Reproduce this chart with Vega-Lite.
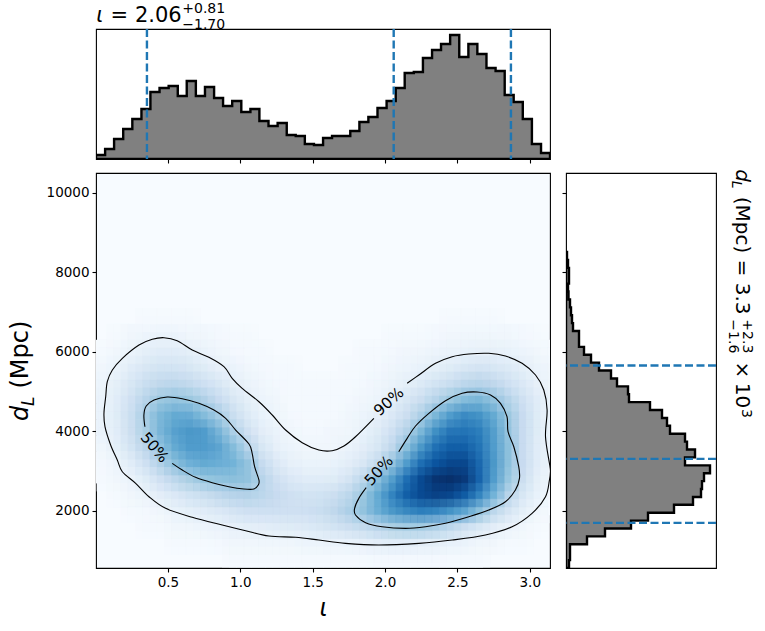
{
  "$schema": "https://vega.github.io/schema/vega-lite/v6.json",
  "background": "white",
  "padding": {"left": 8, "top": 1, "right": 5, "bottom": 5},
  "config": {
    "font": "DejaVu Sans",
    "view": {"stroke": "black", "strokeWidth": 1.1},
    "axis": {"grid": false, "domain": false, "tickColor": "black", "tickSize": 4, "tickWidth": 1.1, "labelColor": "black", "labelFontSize": 13.5, "labelPadding": 3, "titleColor": "black"},
    "text": {"color": "black", "align": "left", "baseline": "alphabetic", "font": "DejaVu Sans"}
  },
  "bounds": "flush",
  "columns": 2,
  "spacing": {"row": 14, "column": 16},
  "datasets": {
    "heat": [
      {"i":0.35,"d":6800,"v":1},{"i":0.45,"d":6800,"v":1},{"i":0.55,"d":6800,"v":1},{"i":0.65,"d":6800,"v":1},{"i":2.45,"d":6800,"v":1},{"i":2.55,"d":6800,"v":1},{"i":2.65,"d":6800,"v":1},{"i":2.75,"d":6800,"v":1},
      {"i":0.15,"d":6400,"v":1},{"i":0.25,"d":6400,"v":3},{"i":0.35,"d":6400,"v":5},{"i":0.45,"d":6400,"v":6},{"i":0.55,"d":6400,"v":6},{"i":0.65,"d":6400,"v":4},{"i":0.75,"d":6400,"v":3},{"i":0.85,"d":6400,"v":2},{"i":0.95,"d":6400,"v":1},{"i":1.05,"d":6400,"v":1},{"i":2.05,"d":6400,"v":1},{"i":2.15,"d":6400,"v":1},{"i":2.25,"d":6400,"v":1},{"i":2.35,"d":6400,"v":2},{"i":2.45,"d":6400,"v":3},{"i":2.55,"d":6400,"v":4},{"i":2.65,"d":6400,"v":4},{"i":2.75,"d":6400,"v":4},{"i":2.85,"d":6400,"v":3},{"i":2.95,"d":6400,"v":2},{"i":3.05,"d":6400,"v":1},
      {"i":0.05,"d":6000,"v":1},{"i":0.15,"d":6000,"v":3},{"i":0.25,"d":6000,"v":6},{"i":0.35,"d":6000,"v":9},{"i":0.45,"d":6000,"v":11},{"i":0.55,"d":6000,"v":11},{"i":0.65,"d":6000,"v":9},{"i":0.75,"d":6000,"v":6},{"i":0.85,"d":6000,"v":4},{"i":0.95,"d":6000,"v":2},{"i":1.05,"d":6000,"v":1},{"i":1.15,"d":6000,"v":1},{"i":1.85,"d":6000,"v":1},{"i":1.95,"d":6000,"v":1},{"i":2.05,"d":6000,"v":2},{"i":2.15,"d":6000,"v":3},{"i":2.25,"d":6000,"v":4},{"i":2.35,"d":6000,"v":5},{"i":2.45,"d":6000,"v":6},{"i":2.55,"d":6000,"v":7},{"i":2.65,"d":6000,"v":8},{"i":2.75,"d":6000,"v":8},{"i":2.85,"d":6000,"v":7},{"i":2.95,"d":6000,"v":5},{"i":3.05,"d":6000,"v":3},{"i":3.15,"d":6000,"v":1},
      {"i":0.05,"d":5600,"v":3},{"i":0.15,"d":5600,"v":6},{"i":0.25,"d":5600,"v":11},{"i":0.35,"d":5600,"v":15},{"i":0.45,"d":5600,"v":18},{"i":0.55,"d":5600,"v":18},{"i":0.65,"d":5600,"v":16},{"i":0.75,"d":5600,"v":12},{"i":0.85,"d":5600,"v":8},{"i":0.95,"d":5600,"v":6},{"i":1.05,"d":5600,"v":3},{"i":1.15,"d":5600,"v":2},{"i":1.25,"d":5600,"v":1},{"i":1.35,"d":5600,"v":1},{"i":1.75,"d":5600,"v":1},{"i":1.85,"d":5600,"v":1},{"i":1.95,"d":5600,"v":2},{"i":2.05,"d":5600,"v":4},{"i":2.15,"d":5600,"v":5},{"i":2.25,"d":5600,"v":7},{"i":2.35,"d":5600,"v":9},{"i":2.45,"d":5600,"v":12},{"i":2.55,"d":5600,"v":15},{"i":2.65,"d":5600,"v":17},{"i":2.75,"d":5600,"v":16},{"i":2.85,"d":5600,"v":13},{"i":2.95,"d":5600,"v":9},{"i":3.05,"d":5600,"v":6},{"i":3.15,"d":5600,"v":3},
      {"i":0.05,"d":5200,"v":5},{"i":0.15,"d":5200,"v":9},{"i":0.25,"d":5200,"v":16},{"i":0.35,"d":5200,"v":23},{"i":0.45,"d":5200,"v":27},{"i":0.55,"d":5200,"v":28},{"i":0.65,"d":5200,"v":26},{"i":0.75,"d":5200,"v":21},{"i":0.85,"d":5200,"v":15},{"i":0.95,"d":5200,"v":9},{"i":1.05,"d":5200,"v":6},{"i":1.15,"d":5200,"v":3},{"i":1.25,"d":5200,"v":2},{"i":1.35,"d":5200,"v":1},{"i":1.45,"d":5200,"v":1},{"i":1.55,"d":5200,"v":1},{"i":1.65,"d":5200,"v":1},{"i":1.75,"d":5200,"v":1},{"i":1.85,"d":5200,"v":2},{"i":1.95,"d":5200,"v":4},{"i":2.05,"d":5200,"v":6},{"i":2.15,"d":5200,"v":9},{"i":2.25,"d":5200,"v":13},{"i":2.35,"d":5200,"v":18},{"i":2.45,"d":5200,"v":23},{"i":2.55,"d":5200,"v":28},{"i":2.65,"d":5200,"v":30},{"i":2.75,"d":5200,"v":27},{"i":2.85,"d":5200,"v":21},{"i":2.95,"d":5200,"v":14},{"i":3.05,"d":5200,"v":8},{"i":3.15,"d":5200,"v":4},
      {"i":0.05,"d":4800,"v":6},{"i":0.15,"d":4800,"v":11},{"i":0.25,"d":4800,"v":20},{"i":0.35,"d":4800,"v":30},{"i":0.45,"d":4800,"v":38},{"i":0.55,"d":4800,"v":40},{"i":0.65,"d":4800,"v":38},{"i":0.75,"d":4800,"v":32},{"i":0.85,"d":4800,"v":24},{"i":0.95,"d":4800,"v":15},{"i":1.05,"d":4800,"v":9},{"i":1.15,"d":4800,"v":5},{"i":1.25,"d":4800,"v":3},{"i":1.35,"d":4800,"v":1},{"i":1.45,"d":4800,"v":1},{"i":1.55,"d":4800,"v":1},{"i":1.65,"d":4800,"v":1},{"i":1.75,"d":4800,"v":2},{"i":1.85,"d":4800,"v":3},{"i":1.95,"d":4800,"v":5},{"i":2.05,"d":4800,"v":9},{"i":2.15,"d":4800,"v":15},{"i":2.25,"d":4800,"v":22},{"i":2.35,"d":4800,"v":30},{"i":2.45,"d":4800,"v":38},{"i":2.55,"d":4800,"v":44},{"i":2.65,"d":4800,"v":46},{"i":2.75,"d":4800,"v":40},{"i":2.85,"d":4800,"v":31},{"i":2.95,"d":4800,"v":20},{"i":3.05,"d":4800,"v":11},{"i":3.15,"d":4800,"v":5},
      {"i":0.05,"d":4400,"v":6},{"i":0.15,"d":4400,"v":12},{"i":0.25,"d":4400,"v":23},{"i":0.35,"d":4400,"v":35},{"i":0.45,"d":4400,"v":46},{"i":0.55,"d":4400,"v":52},{"i":0.65,"d":4400,"v":51},{"i":0.75,"d":4400,"v":44},{"i":0.85,"d":4400,"v":35},{"i":0.95,"d":4400,"v":23},{"i":1.05,"d":4400,"v":13},{"i":1.15,"d":4400,"v":7},{"i":1.25,"d":4400,"v":4},{"i":1.35,"d":4400,"v":2},{"i":1.45,"d":4400,"v":1},{"i":1.55,"d":4400,"v":1},{"i":1.65,"d":4400,"v":1},{"i":1.75,"d":4400,"v":3},{"i":1.85,"d":4400,"v":5},{"i":1.95,"d":4400,"v":8},{"i":2.05,"d":4400,"v":14},{"i":2.15,"d":4400,"v":22},{"i":2.25,"d":4400,"v":33},{"i":2.35,"d":4400,"v":46},{"i":2.45,"d":4400,"v":58},{"i":2.55,"d":4400,"v":65},{"i":2.65,"d":4400,"v":62},{"i":2.75,"d":4400,"v":52},{"i":2.85,"d":4400,"v":38},{"i":2.95,"d":4400,"v":24},{"i":3.05,"d":4400,"v":12},{"i":3.15,"d":4400,"v":5},
      {"i":0.05,"d":4000,"v":6},{"i":0.15,"d":4000,"v":11},{"i":0.25,"d":4000,"v":22},{"i":0.35,"d":4000,"v":34},{"i":0.45,"d":4000,"v":47},{"i":0.55,"d":4000,"v":56},{"i":0.65,"d":4000,"v":60},{"i":0.75,"d":4000,"v":58},{"i":0.85,"d":4000,"v":47},{"i":0.95,"d":4000,"v":33},{"i":1.05,"d":4000,"v":20},{"i":1.15,"d":4000,"v":10},{"i":1.25,"d":4000,"v":6},{"i":1.35,"d":4000,"v":3},{"i":1.45,"d":4000,"v":2},{"i":1.55,"d":4000,"v":2},{"i":1.65,"d":4000,"v":3},{"i":1.75,"d":4000,"v":4},{"i":1.85,"d":4000,"v":7},{"i":1.95,"d":4000,"v":12},{"i":2.05,"d":4000,"v":20},{"i":2.15,"d":4000,"v":31},{"i":2.25,"d":4000,"v":46},{"i":2.35,"d":4000,"v":63},{"i":2.45,"d":4000,"v":73},{"i":2.55,"d":4000,"v":74},{"i":2.65,"d":4000,"v":70},{"i":2.75,"d":4000,"v":57},{"i":2.85,"d":4000,"v":40},{"i":2.95,"d":4000,"v":24},{"i":3.05,"d":4000,"v":12},{"i":3.15,"d":4000,"v":5},
      {"i":0.05,"d":3600,"v":4},{"i":0.15,"d":3600,"v":9},{"i":0.25,"d":3600,"v":18},{"i":0.35,"d":3600,"v":29},{"i":0.45,"d":3600,"v":41},{"i":0.55,"d":3600,"v":52},{"i":0.65,"d":3600,"v":58},{"i":0.75,"d":3600,"v":58},{"i":0.85,"d":3600,"v":54},{"i":0.95,"d":3600,"v":44},{"i":1.05,"d":3600,"v":30},{"i":1.15,"d":3600,"v":16},{"i":1.25,"d":3600,"v":8},{"i":1.35,"d":3600,"v":5},{"i":1.45,"d":3600,"v":3},{"i":1.55,"d":3600,"v":3},{"i":1.65,"d":3600,"v":4},{"i":1.75,"d":3600,"v":6},{"i":1.85,"d":3600,"v":10},{"i":1.95,"d":3600,"v":16},{"i":2.05,"d":3600,"v":27},{"i":2.15,"d":3600,"v":42},{"i":2.25,"d":3600,"v":60},{"i":2.35,"d":3600,"v":75},{"i":2.45,"d":3600,"v":82},{"i":2.55,"d":3600,"v":82},{"i":2.65,"d":3600,"v":74},{"i":2.75,"d":3600,"v":58},{"i":2.85,"d":3600,"v":42},{"i":2.95,"d":3600,"v":24},{"i":3.05,"d":3600,"v":11},{"i":3.15,"d":3600,"v":5},
      {"i":0.05,"d":3200,"v":2},{"i":0.15,"d":3200,"v":5},{"i":0.25,"d":3200,"v":11},{"i":0.35,"d":3200,"v":21},{"i":0.45,"d":3200,"v":32},{"i":0.55,"d":3200,"v":42},{"i":0.65,"d":3200,"v":49},{"i":0.75,"d":3200,"v":52},{"i":0.85,"d":3200,"v":50},{"i":0.95,"d":3200,"v":48},{"i":1.05,"d":3200,"v":40},{"i":1.15,"d":3200,"v":25},{"i":1.25,"d":3200,"v":14},{"i":1.35,"d":3200,"v":8},{"i":1.45,"d":3200,"v":6},{"i":1.55,"d":3200,"v":6},{"i":1.65,"d":3200,"v":7},{"i":1.75,"d":3200,"v":10},{"i":1.85,"d":3200,"v":15},{"i":1.95,"d":3200,"v":26},{"i":2.05,"d":3200,"v":40},{"i":2.15,"d":3200,"v":58},{"i":2.25,"d":3200,"v":76},{"i":2.35,"d":3200,"v":86},{"i":2.45,"d":3200,"v":91},{"i":2.55,"d":3200,"v":91},{"i":2.65,"d":3200,"v":78},{"i":2.75,"d":3200,"v":60},{"i":2.85,"d":3200,"v":42},{"i":2.95,"d":3200,"v":24},{"i":3.05,"d":3200,"v":11},{"i":3.15,"d":3200,"v":4},
      {"i":0.05,"d":2800,"v":1},{"i":0.15,"d":2800,"v":3},{"i":0.25,"d":2800,"v":6},{"i":0.35,"d":2800,"v":12},{"i":0.45,"d":2800,"v":20},{"i":0.55,"d":2800,"v":28},{"i":0.65,"d":2800,"v":34},{"i":0.75,"d":2800,"v":39},{"i":0.85,"d":2800,"v":41},{"i":0.95,"d":2800,"v":42},{"i":1.05,"d":2800,"v":40},{"i":1.15,"d":2800,"v":30},{"i":1.25,"d":2800,"v":20},{"i":1.35,"d":2800,"v":14},{"i":1.45,"d":2800,"v":11},{"i":1.55,"d":2800,"v":11},{"i":1.65,"d":2800,"v":12},{"i":1.75,"d":2800,"v":17},{"i":1.85,"d":2800,"v":28},{"i":1.95,"d":2800,"v":42},{"i":2.05,"d":2800,"v":57},{"i":2.15,"d":2800,"v":76},{"i":2.25,"d":2800,"v":90},{"i":2.35,"d":2800,"v":98},{"i":2.45,"d":2800,"v":100},{"i":2.55,"d":2800,"v":96},{"i":2.65,"d":2800,"v":80},{"i":2.75,"d":2800,"v":58},{"i":2.85,"d":2800,"v":39},{"i":2.95,"d":2800,"v":22},{"i":3.05,"d":2800,"v":9},{"i":3.15,"d":2800,"v":3},
      {"i":0.15,"d":2400,"v":1},{"i":0.25,"d":2400,"v":3},{"i":0.35,"d":2400,"v":6},{"i":0.45,"d":2400,"v":10},{"i":0.55,"d":2400,"v":14},{"i":0.65,"d":2400,"v":19},{"i":0.75,"d":2400,"v":23},{"i":0.85,"d":2400,"v":27},{"i":0.95,"d":2400,"v":30},{"i":1.05,"d":2400,"v":31},{"i":1.15,"d":2400,"v":28},{"i":1.25,"d":2400,"v":24},{"i":1.35,"d":2400,"v":20},{"i":1.45,"d":2400,"v":18},{"i":1.55,"d":2400,"v":19},{"i":1.65,"d":2400,"v":22},{"i":1.75,"d":2400,"v":28},{"i":1.85,"d":2400,"v":38},{"i":1.95,"d":2400,"v":52},{"i":2.05,"d":2400,"v":68},{"i":2.15,"d":2400,"v":82},{"i":2.25,"d":2400,"v":90},{"i":2.35,"d":2400,"v":93},{"i":2.45,"d":2400,"v":91},{"i":2.55,"d":2400,"v":83},{"i":2.65,"d":2400,"v":68},{"i":2.75,"d":2400,"v":48},{"i":2.85,"d":2400,"v":30},{"i":2.95,"d":2400,"v":16},{"i":3.05,"d":2400,"v":7},{"i":3.15,"d":2400,"v":2},
      {"i":0.25,"d":2000,"v":1},{"i":0.35,"d":2000,"v":2},{"i":0.45,"d":2000,"v":4},{"i":0.55,"d":2000,"v":7},{"i":0.65,"d":2000,"v":9},{"i":0.75,"d":2000,"v":11},{"i":0.85,"d":2000,"v":14},{"i":0.95,"d":2000,"v":17},{"i":1.05,"d":2000,"v":20},{"i":1.15,"d":2000,"v":21},{"i":1.25,"d":2000,"v":21},{"i":1.35,"d":2000,"v":20},{"i":1.45,"d":2000,"v":21},{"i":1.55,"d":2000,"v":23},{"i":1.65,"d":2000,"v":27},{"i":1.75,"d":2000,"v":33},{"i":1.85,"d":2000,"v":40},{"i":1.95,"d":2000,"v":50},{"i":2.05,"d":2000,"v":60},{"i":2.15,"d":2000,"v":66},{"i":2.25,"d":2000,"v":70},{"i":2.35,"d":2000,"v":68},{"i":2.45,"d":2000,"v":62},{"i":2.55,"d":2000,"v":54},{"i":2.65,"d":2000,"v":42},{"i":2.75,"d":2000,"v":28},{"i":2.85,"d":2000,"v":17},{"i":2.95,"d":2000,"v":9},{"i":3.05,"d":2000,"v":4},{"i":3.15,"d":2000,"v":1},
      {"i":0.35,"d":1600,"v":1},{"i":0.45,"d":1600,"v":1},{"i":0.55,"d":1600,"v":3},{"i":0.65,"d":1600,"v":4},{"i":0.75,"d":1600,"v":5},{"i":0.85,"d":1600,"v":6},{"i":0.95,"d":1600,"v":8},{"i":1.05,"d":1600,"v":9},{"i":1.15,"d":1600,"v":10},{"i":1.25,"d":1600,"v":11},{"i":1.35,"d":1600,"v":12},{"i":1.45,"d":1600,"v":13},{"i":1.55,"d":1600,"v":15},{"i":1.65,"d":1600,"v":18},{"i":1.75,"d":1600,"v":22},{"i":1.85,"d":1600,"v":26},{"i":1.95,"d":1600,"v":30},{"i":2.05,"d":1600,"v":34},{"i":2.15,"d":1600,"v":36},{"i":2.25,"d":1600,"v":36},{"i":2.35,"d":1600,"v":33},{"i":2.45,"d":1600,"v":28},{"i":2.55,"d":1600,"v":22},{"i":2.65,"d":1600,"v":16},{"i":2.75,"d":1600,"v":10},{"i":2.85,"d":1600,"v":6},{"i":2.95,"d":1600,"v":3},{"i":3.05,"d":1600,"v":1},
      {"i":0.55,"d":1200,"v":1},{"i":0.65,"d":1200,"v":1},{"i":0.75,"d":1200,"v":1},{"i":0.85,"d":1200,"v":2},{"i":0.95,"d":1200,"v":3},{"i":1.05,"d":1200,"v":3},{"i":1.15,"d":1200,"v":4},{"i":1.25,"d":1200,"v":4},{"i":1.35,"d":1200,"v":4},{"i":1.45,"d":1200,"v":5},{"i":1.55,"d":1200,"v":5},{"i":1.65,"d":1200,"v":6},{"i":1.75,"d":1200,"v":7},{"i":1.85,"d":1200,"v":8},{"i":1.95,"d":1200,"v":10},{"i":2.05,"d":1200,"v":11},{"i":2.15,"d":1200,"v":11},{"i":2.25,"d":1200,"v":10},{"i":2.35,"d":1200,"v":9},{"i":2.45,"d":1200,"v":7},{"i":2.55,"d":1200,"v":6},{"i":2.65,"d":1200,"v":4},{"i":2.75,"d":1200,"v":3},{"i":2.85,"d":1200,"v":1},{"i":2.95,"d":1200,"v":1},
      {"i":0.95,"d":800,"v":1},{"i":1.05,"d":800,"v":1},{"i":1.15,"d":800,"v":1},{"i":1.25,"d":800,"v":1},{"i":1.35,"d":800,"v":1},{"i":1.45,"d":800,"v":1},{"i":1.55,"d":800,"v":1},{"i":1.65,"d":800,"v":1},{"i":1.75,"d":800,"v":1},{"i":1.85,"d":800,"v":1},{"i":1.95,"d":800,"v":2},{"i":2.05,"d":800,"v":2},{"i":2.15,"d":800,"v":2},{"i":2.25,"d":800,"v":2},{"i":2.35,"d":800,"v":2},{"i":2.45,"d":800,"v":1},{"i":2.55,"d":800,"v":1},{"i":2.65,"d":800,"v":1}
    ],
    "contours": [
      {"c":"90","k":1,"i":2.153,"d":5212},{"c":"90","k":2,"i":2.234,"d":5421},{"c":"90","k":3,"i":2.349,"d":5715},{"c":"90","k":4,"i":2.464,"d":5881},{"c":"90","k":5,"i":2.579,"d":5949},{"c":"90","k":6,"i":2.717,"d":5967},{"c":"90","k":7,"i":2.832,"d":5899},{"c":"90","k":8,"i":2.947,"d":5715},{"c":"90","k":9,"i":3.04,"d":5421},{"c":"90","k":10,"i":3.097,"d":5044},{"c":"90","k":11,"i":3.12,"d":4540},{"c":"90","k":12,"i":3.109,"d":3869},{"c":"90","k":13,"i":3.138,"d":3157},{"c":"90","k":14,"i":3.143,"d":2988},{"c":"90","k":15,"i":3.136,"d":2779},{"c":"90","k":16,"i":3.109,"d":2359},{"c":"90","k":17,"i":3.016,"d":1941},{"c":"90","k":18,"i":2.878,"d":1604},{"c":"90","k":19,"i":2.694,"d":1396},{"c":"90","k":20,"i":2.464,"d":1270},{"c":"90","k":21,"i":2.234,"d":1186},{"c":"90","k":22,"i":1.957,"d":1144},{"c":"90","k":23,"i":1.727,"d":1186},{"c":"90","k":24,"i":1.543,"d":1270},{"c":"90","k":25,"i":1.382,"d":1338},{"c":"90","k":26,"i":1.198,"d":1370},{"c":"90","k":27,"i":1.037,"d":1504},{"c":"90","k":28,"i":0.875,"d":1647},{"c":"90","k":29,"i":0.668,"d":1841},{"c":"90","k":30,"i":0.484,"d":2067},{"c":"90","k":31,"i":0.369,"d":2359},{"c":"90","k":32,"i":0.277,"d":2696},{"c":"90","k":33,"i":0.185,"d":2988},{"c":"90","k":34,"i":0.15,"d":3282},{"c":"90","k":35,"i":0.104,"d":3660},{"c":"90","k":36,"i":0.065,"d":4120},{"c":"90","k":37,"i":0.058,"d":4457},{"c":"90","k":38,"i":0.07,"d":4875},{"c":"90","k":39,"i":0.081,"d":5252},{"c":"90","k":40,"i":0.116,"d":5547},{"c":"90","k":41,"i":0.185,"d":5841},{"c":"90","k":42,"i":0.3,"d":6176},{"c":"90","k":43,"i":0.392,"d":6319},{"c":"90","k":44,"i":0.473,"d":6360},{"c":"90","k":45,"i":0.564,"d":6284},{"c":"90","k":46,"i":0.668,"d":6050},{"c":"90","k":47,"i":0.783,"d":5866},{"c":"90","k":48,"i":0.887,"d":5630},{"c":"90","k":49,"i":0.944,"d":5338},{"c":"90","k":50,"i":1.013,"d":5086},{"c":"90","k":51,"i":1.129,"d":4749},{"c":"90","k":52,"i":1.221,"d":4415},{"c":"90","k":53,"i":1.313,"d":4037},{"c":"90","k":54,"i":1.428,"d":3718},{"c":"90","k":55,"i":1.543,"d":3534},{"c":"90","k":56,"i":1.635,"d":3517},{"c":"90","k":57,"i":1.716,"d":3635},{"c":"90","k":58,"i":1.796,"d":3868},{"c":"90","k":59,"i":1.923,"d":4332},
      {"c":"50r","k":1,"i":2.095,"d":3491},{"c":"50r","k":2,"i":2.153,"d":3828},{"c":"50r","k":3,"i":2.211,"d":4138},{"c":"50r","k":4,"i":2.303,"d":4457},{"c":"50r","k":5,"i":2.418,"d":4775},{"c":"50r","k":6,"i":2.533,"d":4961},{"c":"50r","k":7,"i":2.636,"d":4993},{"c":"50r","k":8,"i":2.729,"d":4918},{"c":"50r","k":9,"i":2.798,"d":4709},{"c":"50r","k":10,"i":2.843,"d":4372},{"c":"50r","k":11,"i":2.85,"d":3995},{"c":"50r","k":12,"i":2.89,"d":3617},{"c":"50r","k":13,"i":2.924,"d":3114},{"c":"50r","k":14,"i":2.929,"d":2822},{"c":"50r","k":15,"i":2.901,"d":2527},{"c":"50r","k":16,"i":2.832,"d":2234},{"c":"50r","k":17,"i":2.717,"d":2025},{"c":"50r","k":18,"i":2.579,"d":1856},{"c":"50r","k":19,"i":2.418,"d":1690},{"c":"50r","k":20,"i":2.28,"d":1604},{"c":"50r","k":21,"i":2.142,"d":1564},{"c":"50r","k":22,"i":1.98,"d":1604},{"c":"50r","k":23,"i":1.866,"d":1705},{"c":"50r","k":24,"i":1.796,"d":1899},{"c":"50r","k":25,"i":1.79,"d":2067},{"c":"50r","k":26,"i":1.819,"d":2318},{"c":"50r","k":27,"i":1.87,"d":2586},
      {"c":"50l","k":1,"i":0.341,"d":4120},{"c":"50l","k":2,"i":0.334,"d":4415},{"c":"50l","k":3,"i":0.35,"d":4641},{"c":"50l","k":4,"i":0.404,"d":4792},{"c":"50l","k":5,"i":0.495,"d":4868},{"c":"50l","k":6,"i":0.599,"d":4825},{"c":"50l","k":7,"i":0.714,"d":4709},{"c":"50l","k":8,"i":0.818,"d":4540},{"c":"50l","k":9,"i":0.899,"d":4332},{"c":"50l","k":10,"i":0.968,"d":4037},{"c":"50l","k":11,"i":1.06,"d":3685},{"c":"50l","k":12,"i":1.082,"d":3451},{"c":"50l","k":13,"i":1.099,"d":3114},{"c":"50l","k":14,"i":1.129,"d":2779},{"c":"50l","k":15,"i":1.124,"d":2653},{"c":"50l","k":16,"i":1.094,"d":2553},{"c":"50l","k":17,"i":1.025,"d":2553},{"c":"50l","k":18,"i":0.921,"d":2611},{"c":"50l","k":19,"i":0.806,"d":2711},{"c":"50l","k":20,"i":0.691,"d":2847},{"c":"50l","k":21,"i":0.599,"d":3031},{"c":"50l","k":22,"i":0.53,"d":3199}
    ],
    "topHist": [
      {"lo":0.003,"n":4},{"lo":0.066,"n":10},{"lo":0.128,"n":20},{"lo":0.191,"n":30},{"lo":0.254,"n":40},{"lo":0.317,"n":50},{"lo":0.379,"n":67},{"lo":0.442,"n":71},{"lo":0.505,"n":73},{"lo":0.568,"n":63},{"lo":0.63,"n":78},{"lo":0.693,"n":63},{"lo":0.756,"n":72},{"lo":0.819,"n":61},{"lo":0.881,"n":53},{"lo":0.944,"n":58},{"lo":1.007,"n":47},{"lo":1.07,"n":50},{"lo":1.132,"n":38},{"lo":1.195,"n":33},{"lo":1.258,"n":36},{"lo":1.321,"n":24},{"lo":1.383,"n":23},{"lo":1.446,"n":15},{"lo":1.509,"n":14},{"lo":1.572,"n":21},{"lo":1.634,"n":23},{"lo":1.697,"n":23},{"lo":1.76,"n":28},{"lo":1.823,"n":37},{"lo":1.885,"n":42},{"lo":1.948,"n":51},{"lo":2.011,"n":58},{"lo":2.074,"n":71},{"lo":2.136,"n":86},{"lo":2.199,"n":87},{"lo":2.262,"n":101},{"lo":2.325,"n":109},{"lo":2.387,"n":115},{"lo":2.45,"n":124},{"lo":2.513,"n":102},{"lo":2.576,"n":115},{"lo":2.638,"n":105},{"lo":2.701,"n":91},{"lo":2.764,"n":88},{"lo":2.827,"n":64},{"lo":2.889,"n":57},{"lo":2.952,"n":40},{"lo":3.015,"n":15},{"lo":3.078,"n":6},{"lo":3.14,"n":0}
    ],
    "rightHist": [
      {"lo":566,"n":3},{"lo":765,"n":4},{"lo":963,"n":4},{"lo":1162,"n":21},{"lo":1361,"n":39},{"lo":1560,"n":65},{"lo":1758,"n":82},{"lo":1957,"n":108},{"lo":2156,"n":127},{"lo":2354,"n":135},{"lo":2553,"n":136},{"lo":2752,"n":138},{"lo":2950,"n":144},{"lo":3149,"n":119},{"lo":3348,"n":129},{"lo":3547,"n":121},{"lo":3745,"n":119},{"lo":3944,"n":104},{"lo":4143,"n":101},{"lo":4341,"n":96},{"lo":4540,"n":84},{"lo":4739,"n":63},{"lo":4937,"n":62},{"lo":5136,"n":51},{"lo":5335,"n":45},{"lo":5534,"n":33},{"lo":5732,"n":25},{"lo":5931,"n":18},{"lo":6130,"n":13},{"lo":6328,"n":13},{"lo":6527,"n":7},{"lo":6726,"n":6},{"lo":6924,"n":5},{"lo":7123,"n":4},{"lo":7322,"n":2.5},{"lo":7521,"n":2},{"lo":7719,"n":3},{"lo":7918,"n":3},{"lo":8117,"n":2},{"lo":8315,"n":1},{"lo":8514,"n":0}
    ]
  },
  "concat": [
    {
      "width": 454,
      "height": 130,
      "layer": [
        {
          "data": {"name": "topHist"},
          "mark": {"type": "area", "interpolate": "step-after", "color": "#808080", "stroke": "black", "strokeWidth": 2.4, "clip": true},
          "encoding": {
            "x": {"field": "lo", "type": "quantitative", "scale": {"domain": [0.003, 3.14], "nice": false, "zero": false}, "axis": {"labels": false, "title": null, "values": [0.5, 1, 1.5, 2, 2.5, 3]}},
            "y": {"field": "n", "type": "quantitative", "scale": {"domain": [0, 130], "nice": false}, "axis": null}
          }
        },
        {
          "data": {"values": [{"q": 0.355}, {"q": 2.06}, {"q": 2.87}]},
          "mark": {"type": "rule", "color": "#1f77b4", "strokeWidth": 2.4, "strokeDash": [8, 3.5]},
          "encoding": {"x": {"field": "q", "type": "quantitative"}}
        },
        {"data": {"values": [{"t": "ι"}]}, "mark": {"type": "text", "fontSize": 21, "fontStyle": "italic"}, "encoding": {"text": {"field": "t"}, "x": {"datum": 0.005}, "y": {"datum": 137}}},
        {"data": {"values": [{"t": "= 2.06"}]}, "mark": {"type": "text", "fontSize": 21}, "encoding": {"text": {"field": "t"}, "x": {"datum": 0.104}, "y": {"datum": 137}}},
        {"data": {"values": [{"t": "+0.81"}]}, "mark": {"type": "text", "fontSize": 14}, "encoding": {"text": {"field": "t"}, "x": {"datum": 0.599}, "y": {"datum": 146}}},
        {"data": {"values": [{"t": "−1.70"}]}, "mark": {"type": "text", "fontSize": 14}, "encoding": {"text": {"field": "t"}, "x": {"datum": 0.599}, "y": {"datum": 130}}}
      ]
    },
    {
      "width": 150,
      "height": 130,
      "view": {"stroke": null},
      "data": {"values": []},
      "mark": "point"
    },
    {
      "width": 454,
      "height": 395,
      "view": {"fill": "#f7fbff"},
      "layer": [
        {
          "data": {"name": "heat"},
          "mark": {"type": "rect", "width": 15, "height": 16.4, "xOffset": -3.6, "yOffset": -4, "clip": true},
          "encoding": {
            "x": {"field": "i", "type": "quantitative", "scale": {"domain": [0.003, 3.14], "nice": false, "zero": false}, "axis": {"title": "ι", "titleFontSize": 24, "titleFontStyle": "italic", "titleFontWeight": "normal", "titlePadding": 8, "values": [0.5, 1, 1.5, 2, 2.5, 3], "format": ".1f"}},
            "y": {"field": "d", "type": "quantitative", "scale": {"domain": [566, 10503], "nice": false, "zero": false}, "axis": {"title": null, "values": [2000, 4000, 6000, 8000, 10000], "format": "d"}},
            "color": {"field": "v", "type": "quantitative", "legend": null, "scale": {"domain": [0, 12.5, 25, 37.5, 50, 62.5, 75, 87.5, 100], "range": ["#f7fbff", "#deebf7", "#c6dbef", "#9ecae1", "#6baed6", "#4292c6", "#2171b5", "#08519c", "#08306b"]}}
          }
        },
        {
          "data": {"name": "heat"},
          "mark": {"type": "rect", "width": 15, "height": 16.4, "xOffset": 3.6, "yOffset": -4, "opacity": 0.5, "clip": true},
          "encoding": {"x": {"field": "i", "type": "quantitative"}, "y": {"field": "d", "type": "quantitative"}, "color": {"field": "v", "type": "quantitative", "legend": null}}
        },
        {
          "data": {"name": "heat"},
          "mark": {"type": "rect", "width": 15, "height": 16.4, "xOffset": -3.6, "yOffset": 4, "opacity": 0.333, "clip": true},
          "encoding": {"x": {"field": "i", "type": "quantitative"}, "y": {"field": "d", "type": "quantitative"}, "color": {"field": "v", "type": "quantitative", "legend": null}}
        },
        {
          "data": {"name": "heat"},
          "mark": {"type": "rect", "width": 15, "height": 16.4, "xOffset": 3.6, "yOffset": 4, "opacity": 0.25, "clip": true},
          "encoding": {"x": {"field": "i", "type": "quantitative"}, "y": {"field": "d", "type": "quantitative"}, "color": {"field": "v", "type": "quantitative", "legend": null}}
        },
        {
          "data": {"name": "contours"},
          "mark": {"type": "line", "interpolate": "cardinal", "color": "black", "strokeWidth": 1.1, "clip": true},
          "encoding": {"x": {"field": "i", "type": "quantitative"}, "y": {"field": "d", "type": "quantitative"}, "detail": {"field": "c"}, "order": {"field": "k", "type": "quantitative"}}
        },
        {"data": {"values": [{"t": "50%"}]}, "mark": {"type": "text", "fontSize": 15.3, "angle": 50, "align": "center", "baseline": "middle"}, "encoding": {"text": {"field": "t"}, "x": {"datum": 0.408}, "y": {"datum": 3597}}},
        {"data": {"values": [{"t": "50%"}]}, "mark": {"type": "text", "fontSize": 15.3, "angle": 312, "align": "center", "baseline": "middle"}, "encoding": {"text": {"field": "t"}, "x": {"datum": 1.957}, "y": {"datum": 3012}}},
        {"data": {"values": [{"t": "90%"}]}, "mark": {"type": "text", "fontSize": 15.3, "angle": 318, "align": "center", "baseline": "middle"}, "encoding": {"text": {"field": "t"}, "x": {"datum": 2.026}, "y": {"datum": 4749}}},
        {"data": {"values": [{"t": "d"}]}, "mark": {"type": "text", "fontSize": 24, "fontStyle": "italic", "angle": 270}, "encoding": {"text": {"field": "t"}, "x": {"datum": -0.467}, "y": {"datum": 4264}}},
        {"data": {"values": [{"t": "L"}]}, "mark": {"type": "text", "fontSize": 17, "fontStyle": "italic", "angle": 270}, "encoding": {"text": {"field": "t"}, "x": {"datum": -0.425}, "y": {"datum": 4641}}},
        {"data": {"values": [{"t": "(Mpc)"}]}, "mark": {"type": "text", "fontSize": 24, "angle": 270}, "encoding": {"text": {"field": "t"}, "x": {"datum": -0.467}, "y": {"datum": 5081}}}
      ]
    },
    {
      "width": 150,
      "height": 395,
      "layer": [
        {
          "data": {"name": "rightHist"},
          "mark": {"type": "area", "orient": "horizontal", "interpolate": "step-after", "color": "#808080", "stroke": "black", "strokeWidth": 2.4, "clip": true},
          "encoding": {
            "y": {"field": "lo", "type": "quantitative", "scale": {"domain": [566, 10503], "nice": false, "zero": false}, "axis": {"labels": false, "title": null, "values": [2000, 4000, 6000, 8000, 10000]}},
            "x": {"field": "n", "type": "quantitative", "scale": {"domain": [0, 150], "nice": false}, "axis": null}
          }
        },
        {
          "data": {"values": [{"q": 5660}, {"q": 3310}, {"q": 1700}]},
          "mark": {"type": "rule", "color": "#1f77b4", "strokeWidth": 2.4, "strokeDash": [8, 3.5]},
          "encoding": {"y": {"field": "q", "type": "quantitative"}}
        },
        {"data": {"values": [{"t": "d"}]}, "mark": {"type": "text", "fontSize": 20, "fontStyle": "italic", "angle": 90}, "encoding": {"text": {"field": "t"}, "x": {"datum": 170}, "y": {"datum": 10596}}},
        {"data": {"values": [{"t": "L"}]}, "mark": {"type": "text", "fontSize": 14, "fontStyle": "italic", "angle": 90}, "encoding": {"text": {"field": "t"}, "x": {"datum": 166}, "y": {"datum": 10310}}},
        {"data": {"values": [{"t": "(Mpc) = 3.3"}]}, "mark": {"type": "text", "fontSize": 20, "angle": 90}, "encoding": {"text": {"field": "t"}, "x": {"datum": 170}, "y": {"datum": 9907}}},
        {"data": {"values": [{"t": "+2.3"}]}, "mark": {"type": "text", "fontSize": 14, "angle": 90}, "encoding": {"text": {"field": "t"}, "x": {"datum": 177}, "y": {"datum": 6822}}},
        {"data": {"values": [{"t": "−1.6"}]}, "mark": {"type": "text", "fontSize": 14, "angle": 90}, "encoding": {"text": {"field": "t"}, "x": {"datum": 163}, "y": {"datum": 6822}}},
        {"data": {"values": [{"t": "×"}]}, "mark": {"type": "text", "fontSize": 20, "angle": 90}, "encoding": {"text": {"field": "t"}, "x": {"datum": 170}, "y": {"datum": 5761}}},
        {"data": {"values": [{"t": "10"}]}, "mark": {"type": "text", "fontSize": 20, "angle": 90}, "encoding": {"text": {"field": "t"}, "x": {"datum": 170}, "y": {"datum": 5227}}},
        {"data": {"values": [{"t": "3"}]}, "mark": {"type": "text", "fontSize": 14, "angle": 90}, "encoding": {"text": {"field": "t"}, "x": {"datum": 176}, "y": {"datum": 4565}}}
      ]
    }
  ]
}
